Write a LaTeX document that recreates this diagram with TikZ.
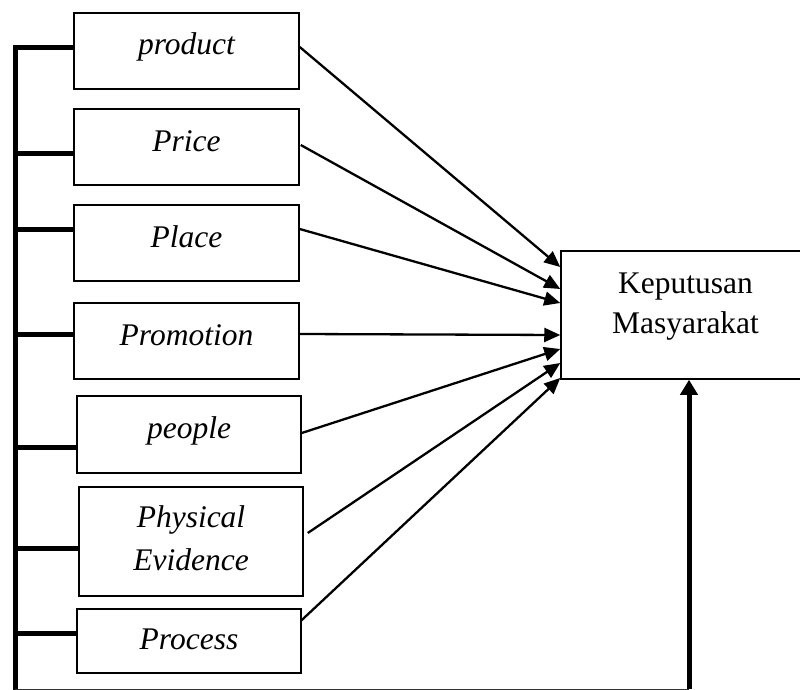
\documentclass[tikz,border=0pt]{standalone}
\usepackage{fontspec}
\setmainfont{Liberation Serif}
\usetikzlibrary{arrows.meta}
\begin{document}
\begin{tikzpicture}[x=1pt,y=-1pt,
  box/.style={draw,line width=1.5pt,rectangle,inner sep=0pt,anchor=center,
    font=\fontsize{31.5}{40}\selectfont\itshape,text height=12pt,text depth=4pt},
  arr/.style={line width=2.3pt,-{Triangle[length=16pt,width=14pt]}},
  thick line/.style={line width=5pt},
]
\useasboundingbox (0,0) rectangle (800,690);
% boxes
\node[box,minimum width=225pt,minimum height=76pt] (prod) at (186.5,51) {product};
\node[box,minimum width=225pt,minimum height=76pt] (price) at (186.5,147) {Price};
\node[box,minimum width=225pt,minimum height=76pt] (place) at (186.5,243) {Place};
\node[box,minimum width=225pt,minimum height=76pt] (promo) at (186.5,341) {Promotion};
\node[box,minimum width=224pt,minimum height=77pt] (people) at (189,434.5) {people};
\node[box,minimum width=224pt,minimum height=109pt,align=center,
  font=\fontsize{31.5}{43}\selectfont\itshape,text height=65pt,text depth=8pt] (phys) at (191,541.5) {Physical\\Evidence};
\node[box,minimum width=224pt,minimum height=64pt,text height=20pt,text depth=4pt] (proc) at (189,641) {Process};
\node[box,minimum width=249pt,minimum height=128pt,align=center,
  font=\fontsize{31.5}{40}\selectfont,text height=62pt,text depth=26pt] (kep) at (685.5,315) {Keputusan\\Masyarakat};
% spine coordinates
\coordinate (stop) at (15,45.5);
\coordinate (sbot) at (15,690);
\coordinate (s1) at (15,48);
\coordinate (s2) at (15,153);
\coordinate (s3) at (15,229);
\coordinate (s4) at (15,334);
\coordinate (s5) at (15,447);
\coordinate (s6) at (15,548);
\coordinate (s7) at (15,633);
\coordinate (bl) at (15,689);
\coordinate (br) at (689,689);
% spine and stubs
\draw[thick line] (stop) -- (sbot);
\draw[thick line] (s1) -- (s1 -| prod.west);
\draw[thick line] (s2) -- (s2 -| price.west);
\draw[thick line] (s3) -- (s3 -| place.west);
\draw[thick line] (s4) -- (s4 -| promo.west);
\draw[thick line] (s5) -- (s5 -| people.west);
\draw[thick line] (s6) -- (s6 -| phys.west);
\draw[thick line] (s7) -- (s7 -| proc.west);
% bottom line and feedback arrow
\draw[line width=1pt,black!80] (bl) -- (br);
\draw[line width=5pt,-{Triangle[length=15pt,width=17pt]}] (br) -- (br |- kep.south);
% arrows into decision box
\draw[arr] ([yshift=4pt]prod.east) -- ([yshift=48pt]kep.west);
\draw[arr] ([xshift=1pt,yshift=2pt]price.east) -- ([yshift=26pt]kep.west);
\draw[arr] ([yshift=14pt]place.east) -- ([yshift=12pt]kep.west);
\draw[arr] ([yshift=7pt]promo.east) -- ([yshift=-20pt]kep.west);
\draw[arr] ([yshift=1.5pt]people.east) -- ([yshift=-34pt]kep.west);
\draw[arr] ([xshift=4pt,yshift=8.5pt]phys.east) -- ([yshift=-48pt]kep.west);
\draw[arr] ([xshift=-1pt,yshift=20pt]proc.east) -- ([yshift=-63pt]kep.west);
\end{tikzpicture}
\end{document}
